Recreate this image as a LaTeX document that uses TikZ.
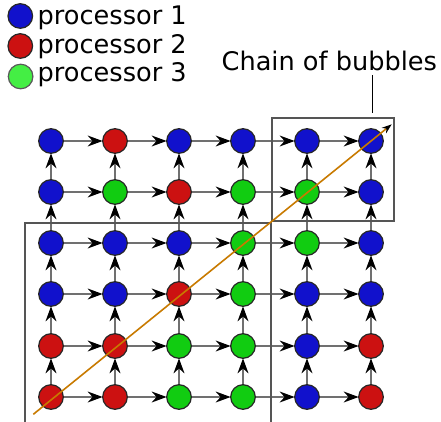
\documentclass[tikz,border=0pt]{standalone}
\usepackage{fontspec}
\setmainfont{DejaVu Sans}
\usetikzlibrary{arrows.meta}
\definecolor{pblue}{HTML}{1111CC}
\definecolor{pred}{HTML}{CC1111}
\definecolor{pgreen}{HTML}{11CC11}
\definecolor{lgreen}{HTML}{44EE44}
\definecolor{edgegray}{HTML}{707070}
\definecolor{boxgray}{HTML}{555555}
\definecolor{chainorange}{HTML}{C87A00}
\tikzset{
  bub/.style={circle, draw=black!85, line width=1.2pt, minimum size=24.6pt, inner sep=0pt},
  B/.style={bub, fill=pblue},
  R/.style={bub, fill=pred},
  G/.style={bub, fill=pgreen},
  link/.style={draw=edgegray, line width=1.3pt, -{Stealth[length=15pt,width=11pt,inset=5pt,black]}, shorten >=-0.5pt},
  frame/.style={draw=boxgray, line width=1.8pt},
  lbl/.style={font=\fontsize{25.6}{30}\selectfont, inner sep=0pt, anchor=base west},
}
\begin{document}
\begin{tikzpicture}[x=1pt,y=-1pt]
\useasboundingbox (0,0) rectangle (441,422);
% legend
\node[bub, fill=pblue] (l1) at (20.3,16) {};
\node[bub, fill=pred] (l2) at (20.3,46) {};
\node[bub, fill=lgreen, draw=black!65] (l3) at (20.6,76.5) {};
\node[lbl] (t1) at (37.5,25) {processor 1};
\node[lbl] (t2) at (37.5,53.5) {processor 2};
\node[lbl] (t3) at (37.5,82) {processor 3};
\node[lbl] (chain) at (221.5,70.7) {Chain of bubbles};
% grid
\def\rowys{{141,192,243,294,346,397}}
\foreach \r/\cols in {1/{B,R,B,B,B,B},2/{B,G,R,G,G,B},3/{B,B,B,G,G,B},4/{B,B,R,G,B,B},5/{R,R,G,G,B,R},6/{R,R,G,G,B,R}}{
  \foreach \s [count=\c] in \cols {
    \pgfmathsetmacro{\yy}{\rowys[\r-1]}
    \node[\s] (n-\r-\c) at ({51+64*(\c-1)},\yy) {};
  }
}
% horizontal links
\foreach \r in {1,...,6}{
  \foreach \c [evaluate=\c as \d using int(\c+1)] in {1,...,5}{
    \draw[link] (n-\r-\c) -- (n-\r-\d);
  }
}
% vertical links
\foreach \r [evaluate=\r as \u using int(\r-1)] in {2,...,6}{
  \foreach \c in {1,...,6}{
    \draw[link] (n-\r-\c) -- (n-\u-\c);
  }
}
% frames
\coordinate (bigA) at (25,424);
\coordinate (bigB) at (25,222.7);
\coordinate (bigC) at (270.7,222.7);
\coordinate (bigD) at (270.7,424);
\draw[frame] (bigA) -- (bigB) -- (bigC) -- (bigD);
\coordinate (smA) at (271.7,118.3);
\coordinate (smB) at (393.7,220.7);
\draw[frame] (smA) rectangle (smB);
% pointer line
\coordinate (ptop) at (372.3,75);
\coordinate (pbot) at (372.3,112.7);
\draw[line width=1.2pt] (ptop) -- (pbot);
% chain arrow
\coordinate (cs) at (33.3,414.3);
\coordinate (ce) at (391.7,124.3);
\draw[chainorange, line width=1.6pt, -{Stealth[length=10pt,width=7pt,black]}] (cs) -- (ce);
\end{tikzpicture}
\end{document}
